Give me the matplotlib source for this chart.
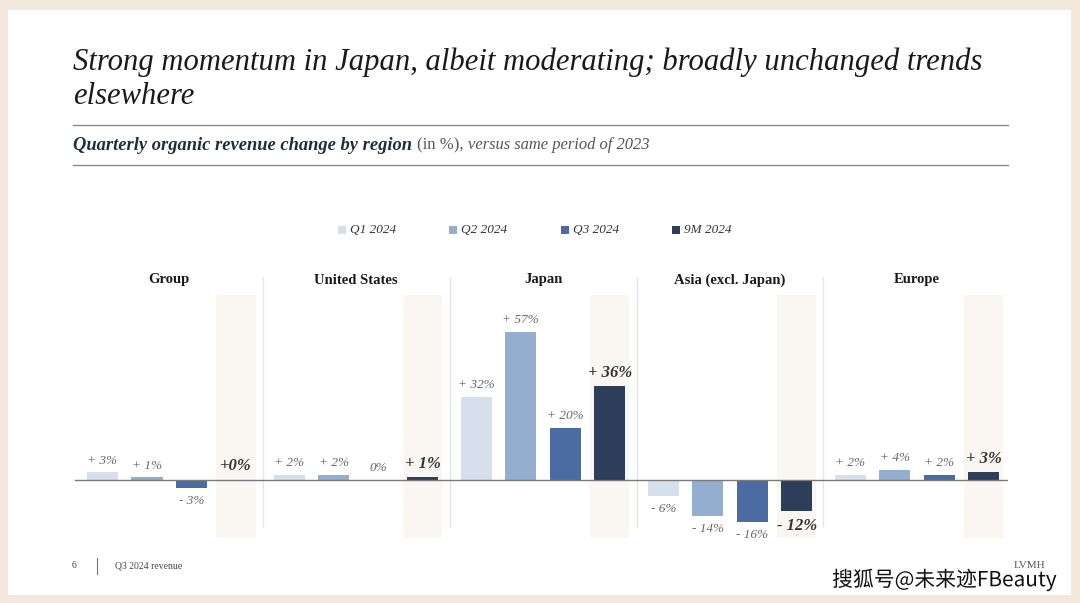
import matplotlib
matplotlib.use("Agg")
import matplotlib.pyplot as plt
from matplotlib.patches import Rectangle
from matplotlib.lines import Line2D
import matplotlib.patheffects as pe

# ---------------- data ----------------
regions = ["Group", "United States", "Japan", "Asia (excl. Japan)", "Europe"]
periods = ["Q1 2024", "Q2 2024", "Q3 2024", "9M 2024"]
q1 = [3, 2, 32, -6, 2]
q2 = [1, 2, 57, -14, 4]
q3 = [-3, 0, 20, -16, 2]
m9 = [0, 1, 36, -12, 3]
labels_q1 = ["+ 3%", "+ 2%", "+ 32%", "- 6%", "+ 2%"]
labels_q2 = ["+ 1%", "+ 2%", "+ 57%", "- 14%", "+ 4%"]
labels_q3 = ["- 3%", "0%", "+ 20%", "- 16%", "+ 2%"]
labels_m9 = ["+0%", "+ 1%", "+ 36%", "- 12%", "+ 3%"]

colors = ["#d6e0ec", "#93aecf", "#4a6ca3", "#2c3e5a"]

W, H = 1080, 603
fig = plt.figure(figsize=(W / 100, H / 100), dpi=100)
fig.patch.set_facecolor("#f4e8dd")

def fx(px):
    return px / W

def fy(py):
    return 1 - py / H

# white slide
fig.patches.append(Rectangle((fx(8), fy(595)), fx(1071) - fx(8), fy(10) - fy(595),
                             transform=fig.transFigure, facecolor="white",
                             edgecolor="none", zorder=-5))

SERIF = ["Liberation Serif", "DejaVu Serif"]
renderer = fig.canvas.get_renderer()

def fit_text(x, y, s, target_px, **kw):
    t = fig.text(x, y, s, **kw)
    size = kw.get("fontsize", 12)
    for _ in range(4):
        w = t.get_window_extent(renderer).width
        size *= target_px / w
        t.set_fontsize(size)
    return t

# title
t1 = fit_text(fx(73), fy(62), "Strong momentum in Japan, albeit moderating; broadly unchanged trends",
              910, family=SERIF, style="italic", fontsize=22, color="#1a1a1a", va="center")
fig.text(fx(73), fy(97), "elsewhere", family=SERIF, style="italic",
         fontsize=t1.get_fontsize(), color="#1a1a1a", va="center")

# rules
for yy in (125, 165):
    fig.add_artist(Line2D([fx(73), fx(1008)], [fy(yy), fy(yy)], transform=fig.transFigure,
                          color="#8a8a8a", lw=1.0))

# subtitle in three pieces
s1 = fit_text(fx(73), fy(145), "Quarterly organic revenue change by region", 339,
              family=SERIF, style="italic", weight="bold", fontsize=11,
              color="#1f2d3d", va="center")
s2 = fig.text(fx(417), fy(145), "(in %),", family=SERIF, fontsize=s1.get_fontsize() * 0.9,
              color="#555555", va="center")
e2 = s2.get_window_extent(renderer)
s3 = fit_text(fx(e2.x1 + 5), fy(145), "versus same period of 2023", 182,
              family=SERIF, style="italic", fontsize=11, color="#555555", va="center")

# legend
leg_x = [338, 449, 561, 672]
for xx, c, p in zip(leg_x, colors, periods):
    fig.patches.append(Rectangle((fx(xx), fy(234)), 8 / W, 8 / H, transform=fig.transFigure,
                                 facecolor=c, edgecolor="none"))
    fig.text(fx(xx + 12), fy(230), p, family=SERIF, style="italic", fontsize=9.5,
             color="#333333", va="center")

# ---------------- chart axes ----------------
unit = 44.5          # px per bar step
x0_px = 102.5        # px of first bar centre
ppv = 2.6            # px per percent
base_px = 480
ax_left, ax_right, ax_top, ax_bot = 73, 1008, 260, 545
ax = fig.add_axes([fx(ax_left), fy(ax_bot), (ax_right - ax_left) / W, (ax_bot - ax_top) / H])
ax.set_zorder(2)
ax.set_xlim((ax_left - x0_px) / unit, (ax_right - x0_px) / unit)
ax.set_ylim(-(ax_bot - base_px) / ppv, (base_px - ax_top) / ppv)
ax.axis("off")
ax.patch.set_alpha(0)

gstep = 4.2
series = [q1, q2, q3, m9]
labs = [labels_q1, labels_q2, labels_q3, labels_m9]
shade_top = (base_px - 295) / ppv
shade_bot = -(538 - base_px) / ppv

for g, reg in enumerate(regions):
    gx = g * gstep
    # shaded 9M column
    ax.bar(gx + 3, shade_top - shade_bot, bottom=shade_bot, width=0.88,
           color="#faf6f1", zorder=0)
    # divider
    if g > 0:
        ax.plot([gx - 0.6, gx - 0.6], [(base_px - 277) / ppv, -(527 - base_px) / ppv],
                color="#e6e6e6", lw=1.0, zorder=1)
    ax.text(gx + 1.5, (base_px - 280) / ppv, reg, family=SERIF, weight="bold",
            fontsize=10.5, color="#1a1a1a", ha="center", va="center")
    for i in range(4):
        v = series[i][g]
        ax.bar(gx + i, v, width=0.70, color=colors[i], zorder=2)
        big = (i == 3)
        fs = 12 if big else 9.5
        col = "#333333" if big else "#666666"
        wt = "bold" if big else "normal"
        if v >= 0:
            ax.annotate(labs[i][g], (gx + i, v), xytext=(0, 4 if big else 4),
                        textcoords="offset points", ha="center", va="bottom",
                        family=SERIF, style="italic", fontsize=fs, color=col, weight=wt)
        else:
            ax.annotate(labs[i][g], (gx + i, v), xytext=(0, -5),
                        textcoords="offset points", ha="center", va="top",
                        family=SERIF, style="italic", fontsize=fs, color=col, weight=wt)

ax.axhline(0, xmin=(75 - ax_left) / (ax_right - ax_left), xmax=1, color="#7a7a7a",
           lw=1.0, zorder=3)

# footer
fig.text(fx(72), fy(566), "6", family=SERIF, fontsize=7, color="#444444", va="center")
fig.add_artist(Line2D([fx(97), fx(97)], [fy(558), fy(574)], transform=fig.transFigure,
                      color="#777777", lw=0.8))
fig.text(fx(115), fy(566), "Q3 2024 revenue", family=SERIF, fontsize=7,
         color="#444444", va="center")
fig.text(fx(1030), fy(566), "LVMH", family=SERIF, fontsize=8, color="#555555",
         va="center", ha="center")
fig.text(fx(1057), fy(580), "搜狐号@未来迹FBeauty", family=["Noto Sans CJK SC", "DejaVu Sans"],
         fontsize=15, color="#111111", ha="right", va="center", zorder=5,
         path_effects=[pe.withStroke(linewidth=3, foreground="white")])

fig.savefig("out.png", dpi=100, facecolor=fig.get_facecolor())
